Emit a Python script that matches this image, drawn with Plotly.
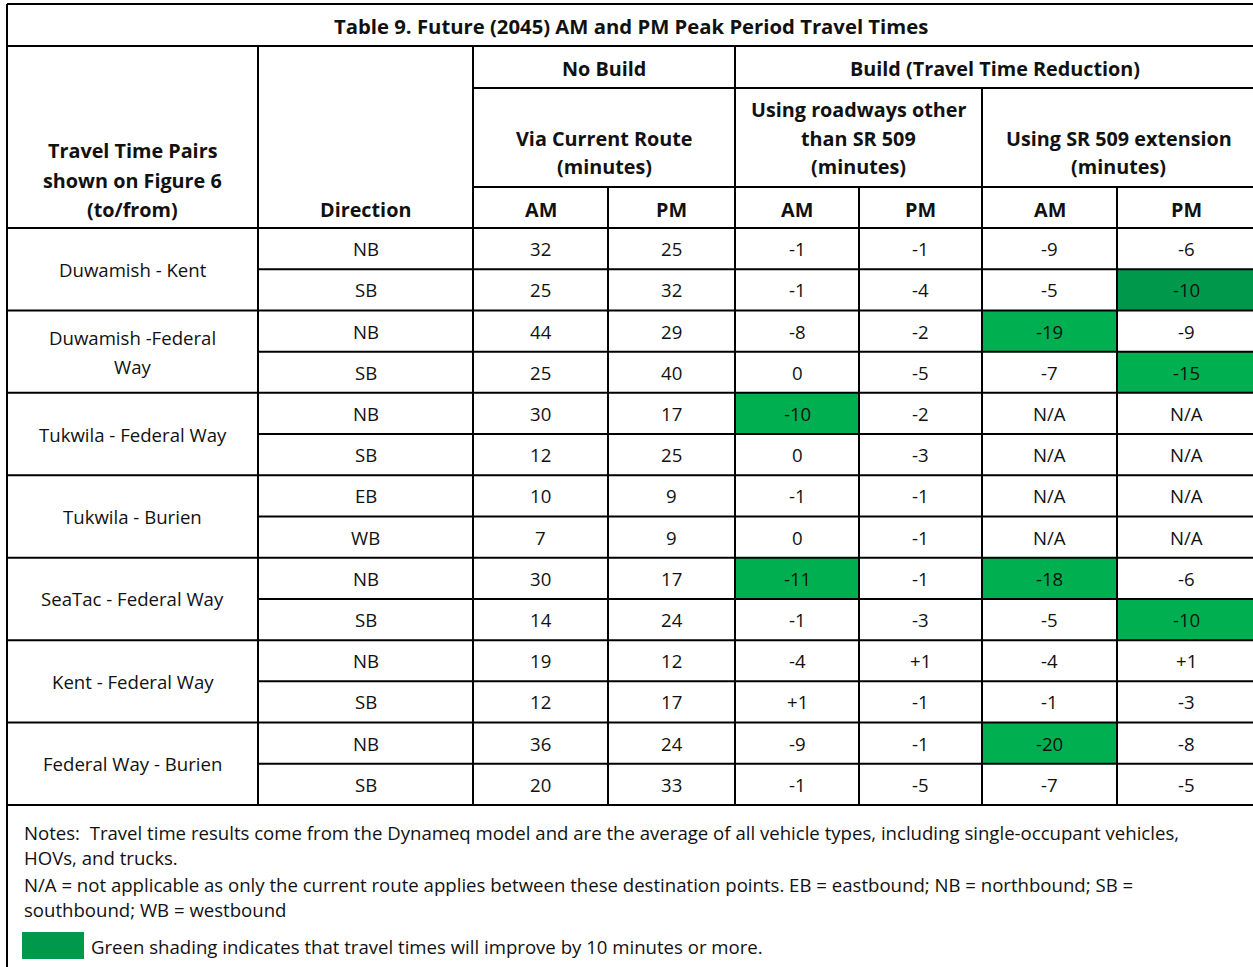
import plotly.graph_objects as go

# ---------------- data ----------------
title = "Table 9. Future (2045) AM and PM Peak Period Travel Times"
pairs = ["Duwamish - Kent", "Duwamish -Federal<br>Way", "Tukwila - Federal Way",
         "Tukwila - Burien", "SeaTac - Federal Way", "Kent - Federal Way",
         "Federal Way - Burien"]
directions = ["NB", "SB", "NB", "SB", "NB", "SB", "EB", "WB",
              "NB", "SB", "NB", "SB", "NB", "SB"]
nobuild_am = ["32", "25", "44", "25", "30", "12", "10", "7", "30", "14", "19", "12", "36", "20"]
nobuild_pm = ["25", "32", "29", "40", "17", "25", "9", "9", "17", "24", "12", "17", "24", "33"]
other_am = ["-1", "-1", "-8", "0", "-10", "0", "-1", "0", "-11", "-1", "-4", "+1", "-9", "-1"]
other_pm = ["-1", "-4", "-2", "-5", "-2", "-3", "-1", "-1", "-1", "-3", "+1", "-1", "-1", "-5"]
sr509_am = ["-9", "-5", "-19", "-7", "N/A", "N/A", "N/A", "N/A", "-18", "-5", "-4", "-1", "-20", "-7"]
sr509_pm = ["-6", "-10", "-9", "-15", "N/A", "N/A", "N/A", "N/A", "-6", "-10", "+1", "-3", "-8", "-5"]
dark_cells = [(1, 7)]  # (row, column) drawn in the darker green
notes = [
    "Notes:  Travel time results come from the Dynameq model and are the average of all vehicle types, including single-occupant vehicles,",
    "HOVs, and trucks.",
    "N/A = not applicable as only the current route applies between these destination points. EB = eastbound; NB = northbound; SB =",
    "southbound; WB = westbound",
]
legend_text = "Green shading indicates that travel times will improve by 10 minutes or more."

# ---------------- layout geometry ----------------
W, H = 1253, 967
FONT = "Open Sans"
FS = 18.6
FSB = 19.8
FST = 20.3
BLACK = "#000000"
TXT = "#111111"
GREEN = "#00B050"
DARK_GREEN = "#00994C"

col_x = [7, 258, 473, 608, 735, 859, 982, 1117, 1255]
y_top, y_title, y_h1, y_h2, y_h3 = 4, 46, 88, 187, 228
y_end = 805
n_rows = len(directions)
row_h = (y_end - y_h3) / n_rows
row_y = [y_h3 + i * row_h for i in range(n_rows + 1)]

shapes = []
ann = []


def line(x0, y0, x1, y1, w=2):
    shapes.append(dict(type="line", x0=x0, y0=y0, x1=x1, y1=y1, xref="x", yref="y",
                       line=dict(color=BLACK, width=w), layer="above"))


def rect(x0, y0, x1, y1, color):
    shapes.append(dict(type="rect", x0=x0, y0=y0, x1=x1, y1=y1, xref="x", yref="y",
                       fillcolor=color, line=dict(width=0), layer="below"))


def text(x, y, s, bold=False, align="center", color=TXT, size=None):
    if size is None:
        size = FSB if bold else FS
    ann.append(dict(x=x, y=y, xref="x", yref="y", text=f"<b>{s}</b>" if bold else s,
                    showarrow=False, xanchor={"center": "center", "left": "left"}[align],
                    yanchor="middle", align=align,
                    font=dict(family=FONT, size=size, color=color)))


cols = [nobuild_am, nobuild_pm, other_am, other_pm, sr509_am, sr509_pm]

# green shading
for r in range(n_rows):
    for c, vals in enumerate(cols):
        v = vals[r]
        try:
            num = float(v)
        except ValueError:
            continue
        if c >= 2 and num <= -10:
            ci = c + 2
            color = DARK_GREEN if (r, ci) in dark_cells else GREEN
            rect(col_x[ci], row_y[r], col_x[ci + 1], row_y[r + 1], color)

# outer border
line(col_x[0], y_top, W + 5, y_top)
line(col_x[0], y_top, col_x[0], H + 5)
line(col_x[-1], y_top, col_x[-1], y_end)
# title bottom
line(col_x[0], y_title, col_x[-1], y_title)
# header lines
line(col_x[2], y_h1, col_x[-1], y_h1)
line(col_x[2], y_h2, col_x[-1], y_h2)
line(col_x[0], y_h3, col_x[-1], y_h3)
for xv in (col_x[1], col_x[2], col_x[4]):
    line(xv, y_title, xv, y_end)
line(col_x[6], y_h1, col_x[6], y_end)
for xv in (col_x[3], col_x[5], col_x[7]):
    line(xv, y_h2, xv, y_end)
# row lines
for r in range(1, n_rows):
    if r % 2 == 0:
        line(col_x[0], row_y[r], col_x[-1], row_y[r])
    else:
        line(col_x[1], row_y[r], col_x[-1], row_y[r])
line(col_x[0], y_end, col_x[-1], y_end)

# header text
text((col_x[0] + col_x[-1]) / 2, 26, title, bold=True, size=FST)
for s, yy in zip(["Travel Time Pairs", "shown on Figure 6", "(to/from)"], [150, 180, 209]):
    text((col_x[0] + col_x[1]) / 2, yy, s, bold=True)
text((col_x[1] + col_x[2]) / 2, 209, "Direction", bold=True)
text((col_x[2] + col_x[4]) / 2, 68, "No Build", bold=True)
text((col_x[4] + col_x[-1]) / 2, 68, "Build (Travel Time Reduction)", bold=True)
for s, yy in zip(["Via Current Route", "(minutes)"], [138, 166]):
    text((col_x[2] + col_x[4]) / 2, yy, s, bold=True)
for s, yy in zip(["Using roadways other", "than SR 509", "(minutes)"], [109, 138, 166]):
    text((col_x[4] + col_x[6]) / 2, yy, s, bold=True)
for s, yy in zip(["Using SR 509 extension", "(minutes)"], [138, 166]):
    text((col_x[6] + col_x[-1]) / 2, yy, s, bold=True)
for ci in range(2, 8):
    text((col_x[ci] + col_x[ci + 1]) / 2, 209, "AM" if ci % 2 == 0 else "PM", bold=True)

# body text
for i, p in enumerate(pairs):
    yc = (row_y[2 * i] + row_y[2 * i + 2]) / 2
    parts = p.split("<br>")
    if len(parts) == 1:
        text((col_x[0] + col_x[1]) / 2, yc, p)
    else:
        text((col_x[0] + col_x[1]) / 2, yc - 14, parts[0])
        text((col_x[0] + col_x[1]) / 2, yc + 15, parts[1])
for r in range(n_rows):
    yc = (row_y[r] + row_y[r + 1]) / 2
    text((col_x[1] + col_x[2]) / 2, yc, directions[r])
    for c, vals in enumerate(cols):
        ci = c + 2
        text((col_x[ci] + col_x[ci + 1]) / 2, yc, vals[r])

# notes
for s, yy in zip(notes, [832, 857, 884, 909]):
    text(22, yy, s, align="left")
rect(22, 932, 84, 959, DARK_GREEN)
text(89, 946, legend_text, align="left")

fig = go.Figure()
fig.add_trace(go.Scatter(x=[0, W], y=[0, H], mode="markers", marker=dict(opacity=0),
                         hoverinfo="skip", showlegend=False))
fig.update_layout(
    width=W, height=H, margin=dict(l=0, r=0, t=0, b=0),
    paper_bgcolor="white", plot_bgcolor="white",
    xaxis=dict(range=[0, W], visible=False, fixedrange=True),
    yaxis=dict(range=[H, 0], visible=False, fixedrange=True),
    shapes=shapes, annotations=ann, showlegend=False,
)
fig.write_html("out.html", config={"displayModeBar": False},
               post_script="document.body.style.margin='0px';document.body.style.overflow='hidden';")
